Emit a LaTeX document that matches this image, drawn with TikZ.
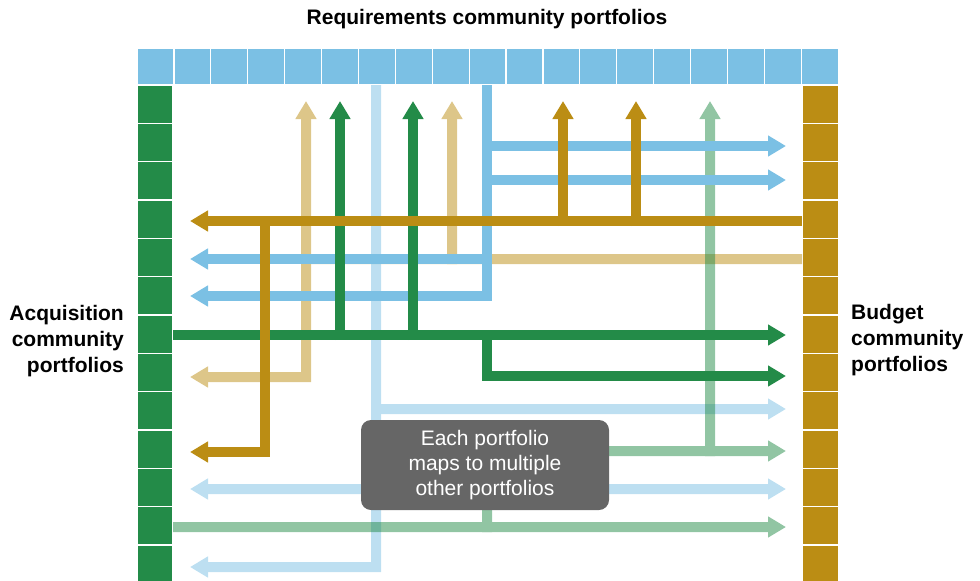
\documentclass[tikz,border=0pt]{standalone}
\usepackage{fontspec}
\setmainfont{Liberation Sans}
\usetikzlibrary{arrows.meta,positioning}

\definecolor{reqblue}{RGB}{123,192,228}
\definecolor{acqgreen}{RGB}{35,139,72}
\definecolor{budgold}{RGB}{187,141,20}
\definecolor{notegray}{RGB}{102,102,102}

\begin{document}
\begin{tikzpicture}
  [x=1pt,y=-1pt,
   cell/.style={draw=white,line width=1.2pt},
   link/.style={line width=10pt},
   flow/.style={link,-{Triangle[width=20pt,length=18pt]}},
   twoway flow/.style={link,{Triangle[width=20pt,length=18pt]}-{Triangle[width=20pt,length=18pt]}},
   faint/.style={transparency group,opacity=0.5},
   side label/.style={inner sep=0pt,font=\bfseries\fontsize{21}{26}\selectfont},
   note box/.style={fill=notegray,rounded corners=10pt,text=white,align=center,
     minimum width=248pt,minimum height=90pt,font=\fontsize{21}{25}\selectfont}]
  \useasboundingbox (0,0) rectangle (980,581);
  \clip (0,0) rectangle (980,581);

  % portfolio bars
  \foreach \i in {0,...,18}
    \path[fill=reqblue,cell] ({137+\i*36.9},48) rectangle +(36.9,37);
  \foreach \j in {0,...,12} {
    \path[fill=acqgreen,cell] (137,{85+\j*38.33}) rectangle +(36,38.33);
    \path[fill=budgold,cell] (802.5,{85+\j*38.33}) rectangle +(36,38.33);
  }

  % faint mappings
  \begin{scope}[faint]
    \draw[budgold,link] (802,259) -- (301,259);
    \draw[budgold,flow] (452,264) -- (452,101);
    \draw[budgold,twoway flow] (190,377) -| (306,101);
  \end{scope}
  \begin{scope}[faint]
    \draw[reqblue,flow] (376,85) |- (190,567);
    \draw[reqblue,flow] (371,409) -- (786,409);
    \draw[reqblue,twoway flow] (190,489) -- (786,489);
  \end{scope}
  \begin{scope}[faint]
    \draw[acqgreen,flow] (173,527) -- (786,527);
    \draw[acqgreen,flow] (487,532) |- (786,451);
    \draw[acqgreen,flow] (710,456) -- (710,101);
  \end{scope}

  % requirements mappings
  \draw[reqblue,flow] (487,85) |- (190,296);
  \draw[reqblue,flow] (487,259) -- (190,259);
  \draw[reqblue,flow] (482,146) -- (786,146);
  \draw[reqblue,flow] (482,180) -- (786,180);

  % acquisition mappings
  \draw[acqgreen,flow] (173,335) -- (786,335);
  \draw[acqgreen,flow] (340,340) -- (340,101);
  \draw[acqgreen,flow] (413,340) -- (413,101);
  \draw[acqgreen,flow] (487,330) |- (786,376);

  % budget mappings
  \draw[budgold,flow] (802,221) -- (190,221);
  \draw[budgold,flow] (265,216) |- (190,452);
  \draw[budgold,flow] (563,226) -- (563,101);
  \draw[budgold,flow] (636,226) -- (636,101);

  % labels
  \node[side label] (req) at (487,19) {Requirements community portfolios};
  \node[side label,align=right,anchor=east] (acq) at (124,341) {Acquisition\\community\\portfolios};
  \node[side label,align=left,anchor=west] (bud) at (851,340) {Budget\\community\\portfolios};
  \node[note box] (note) at (485,465) {Each portfolio\\maps to multiple\\other portfolios};
\end{tikzpicture}
\end{document}
